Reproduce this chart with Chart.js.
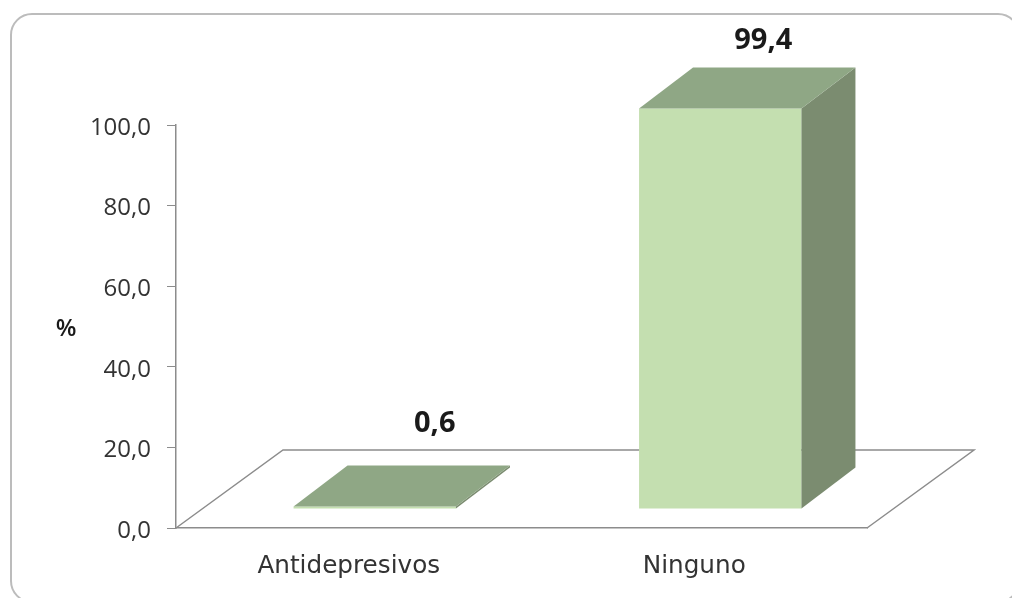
<!DOCTYPE html>
<html lang="es">

<head>
    <meta charset="UTF-8" />
    <title>Antidepresivos</title>
    <script src="https://cdn.jsdelivr.net/npm/chart.js"></script>
    <style>
        html, body { margin: 0; padding: 0; background: #fff; overflow: hidden; }
        .marco { position: absolute; left: 10px; top: 13px; width: 1006px; height: 586px; border: 2px solid #bcbcbc; border-radius: 22px; }
        canvas { position: absolute; left: 0; top: 0; }
    </style>
</head>

<body>
    <div class="marco"></div>
    <canvas id="grafico" width="1012" height="598"></canvas>

<script>
    const categorias = ["Antidepresivos", "Ninguno"];
    const valores = [0.6, 99.4];
    const etiquetas = ["0,6", "99,4"];

    const fuente = "'Open Sans', sans-serif";
    const colorLinea = "#8c8c8c";

    // profundidad del efecto 3D
    const fondoX = 107, fondoY = -78;   // piso
    const barraX = 54, barraY = -41;    // caras de la barra
    const corrX = 26, corrY = -19;      // barra respecto al eje
    const despEtiqueta = [[60, -42], [43, -27]];

    function poligono(ctx, puntos, color) {
        ctx.beginPath();
        puntos.forEach((p, i) => i ? ctx.lineTo(p[0], p[1]) : ctx.moveTo(p[0], p[1]));
        ctx.closePath();
        ctx.fillStyle = color;
        ctx.fill();
    }

    const efecto3d = {
        id: "efecto3d",
        beforeDatasetsDraw(chart) {
            const { ctx, chartArea: a } = chart;
            // piso
            ctx.save();
            ctx.strokeStyle = colorLinea;
            ctx.lineWidth = 1.5;
            ctx.beginPath();
            ctx.moveTo(a.left, a.bottom);
            ctx.lineTo(a.left + fondoX, a.bottom + fondoY);
            ctx.lineTo(a.right + fondoX, a.bottom + fondoY);
            ctx.lineTo(a.right, a.bottom);
            ctx.stroke();
            ctx.restore();
            ctx.save();
            ctx.translate(corrX, corrY);
        },
        afterDatasetsDraw(chart) {
            const { ctx } = chart;
            ctx.restore();
            chart.getDatasetMeta(0).data.forEach((el, i) => {
                const izq = el.x - el.width / 2 + corrX;
                const der = el.x + el.width / 2 + corrX;
                const arr = el.y + corrY;
                const aba = el.base + corrY;
                poligono(ctx, [[der, arr], [der + barraX, arr + barraY], [der + barraX, aba + barraY], [der, aba]], "#7b8c70");
                poligono(ctx, [[izq, arr], [izq + barraX, arr + barraY], [der + barraX, arr + barraY], [der, arr]], "#8fa785");
                ctx.fillStyle = "#1a1a1a";
                ctx.font = "bold 29px " + fuente;
                ctx.textAlign = "center";
                ctx.textBaseline = "middle";
                ctx.fillText(etiquetas[i], (izq + der) / 2 + despEtiqueta[i][0], arr + barraY + despEtiqueta[i][1]);
            });
            // titulo del eje, horizontal como en el original
            ctx.fillStyle = "#1a1a1a";
            ctx.font = "600 24px " + fuente;
            ctx.fillText("%", 66, 329);
        }
    };

    new Chart(document.getElementById("grafico"), {
        type: "bar",
        data: {
            labels: categorias,
            datasets: [{
                data: valores,
                backgroundColor: "#c4dfb0",
                barPercentage: 0.47,
                categoryPercentage: 1,
                clip: false
            }]
        },
        options: {
            responsive: false,
            animation: false,
            layout: { padding: { top: 125, right: 145, left: 0, bottom: 0 } },
            plugins: {
                legend: { display: false },
                tooltip: { enabled: false }
            },
            scales: {
                x: {
                    afterFit(scale) { scale.height = 70; },
                    grid: { display: false },
                    border: { color: colorLinea, width: 1.5 },
                    ticks: { color: "#333", font: { family: "'DejaVu Sans', sans-serif", size: 24.7 }, padding: 16, maxRotation: 0 }
                },
                y: {
                    min: 0,
                    max: 100,
                    afterFit(scale) { scale.width = 176; },
                    grid: { drawOnChartArea: false, tickLength: 9, color: colorLinea },
                    border: { color: colorLinea, width: 1.5 },
                    ticks: {
                        stepSize: 20,
                        color: "#333",
                        padding: 16,
                        labelOffset: 3,
                        font: { family: fuente, size: 24 },
                        callback: v => v.toFixed(1).replace(".", ",")
                    }
                }
            }
        },
        plugins: [efecto3d]
    });
</script>
</body>
</html>
